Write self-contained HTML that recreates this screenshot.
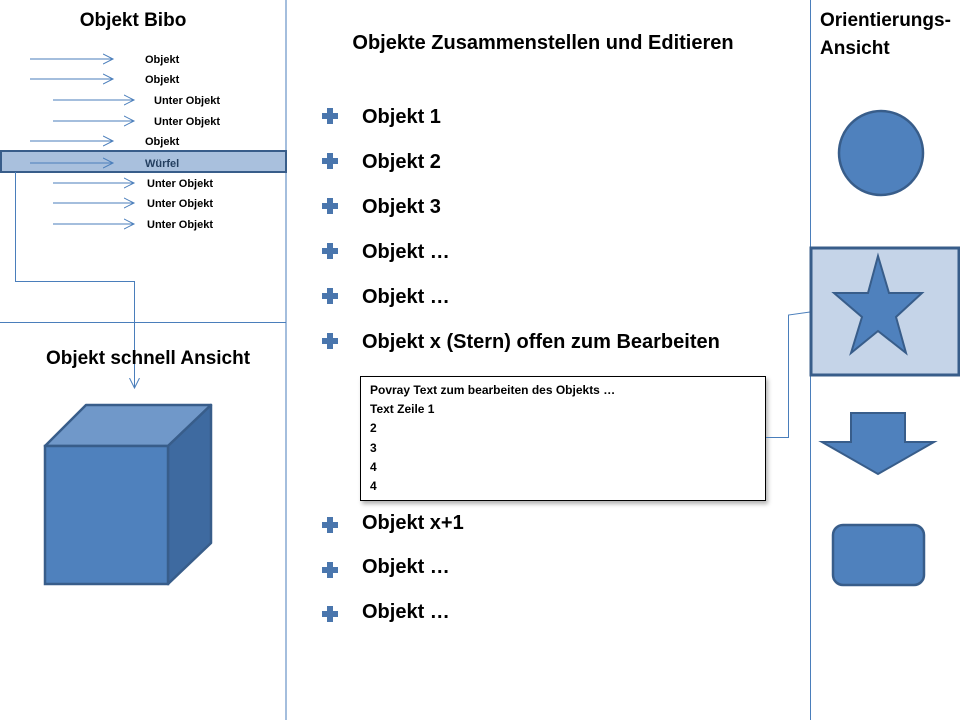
<!DOCTYPE html>
<html><head><meta charset="utf-8"><style>
html,body{margin:0;padding:0;background:#fff;}
svg{display:block;}
text{font-family:"Liberation Sans",sans-serif;font-weight:bold;fill:#000;}
</style></head><body>
<svg width="960" height="720" viewBox="0 0 960 720" xmlns="http://www.w3.org/2000/svg">
<defs>
<marker id="ah" markerWidth="12" markerHeight="12" refX="10" refY="6" orient="auto" markerUnits="userSpaceOnUse">
<path d="M0,1 L10,6 L0,11" fill="none" stroke="#4a7ebb" stroke-width="1"/>
</marker>
<filter id="sh" x="-5%" y="-5%" width="110%" height="115%"><feDropShadow dx="2" dy="3" stdDeviation="2" flood-color="#000" flood-opacity="0.3"/></filter>
<path id="b" d="M-3,-8 h6 v5 h5 v6 h-5 v5 h-6 v-5 h-5 v-6 h5z"/>
</defs>
<line x1="286" y1="0" x2="286" y2="720" stroke="#4a7ebb" stroke-width="1"/>
<line x1="810.5" y1="0" x2="810.5" y2="720" stroke="#4a7ebb" stroke-width="1"/>
<line x1="0" y1="322.5" x2="286" y2="322.5" stroke="#4a7ebb" stroke-width="1"/>

<text x="133" y="26" font-size="19" text-anchor="middle">Objekt Bibo</text>
<rect x="1" y="151" width="285" height="21" fill="#a9c0dd" stroke="#385d8a" stroke-width="2"/>
<g stroke="#4a7ebb" stroke-width="1" marker-end="url(#ah)">
<line x1="30" y1="59" x2="113" y2="59"/>
<line x1="30" y1="79" x2="113" y2="79"/>
<line x1="53" y1="100" x2="134" y2="100"/>
<line x1="53" y1="121" x2="134" y2="121"/>
<line x1="30" y1="141" x2="113" y2="141"/>
<line x1="30" y1="163" x2="113" y2="163"/>
<line x1="53" y1="183" x2="134" y2="183"/>
<line x1="53" y1="203" x2="134" y2="203"/>
<line x1="53" y1="224" x2="134" y2="224"/>
</g>
<g font-size="11">
<text x="145" y="63">Objekt</text>
<text x="145" y="83">Objekt</text>
<text x="154" y="104">Unter Objekt</text>
<text x="154" y="125">Unter Objekt</text>
<text x="145" y="145">Objekt</text>
<text x="145" y="167" style="fill:#243f60">Würfel</text>
<text x="147" y="187">Unter Objekt</text>
<text x="147" y="207">Unter Objekt</text>
<text x="147" y="228">Unter Objekt</text>
</g>
<polyline points="15.5,172 15.5,281.5 134.5,281.5 134.5,388" fill="none" stroke="#4a7ebb" stroke-width="1" marker-end="url(#ah)"/>

<text x="148" y="364" font-size="19" text-anchor="middle">Objekt schnell Ansicht</text>
<polygon points="45,446 86,405 211,405 168,446" fill="#7098c9" stroke="#385d8a" stroke-width="2.5" stroke-linejoin="round"/>
<polygon points="168,446 211,405 211,543 168,584" fill="#3e6aa0" stroke="#385d8a" stroke-width="2.5" stroke-linejoin="round"/>
<rect x="45" y="446" width="123" height="138" fill="#4f81bd" stroke="#385d8a" stroke-width="2.5"/>

<text x="543" y="49" font-size="20" text-anchor="middle">Objekte Zusammenstellen und Editieren</text>
<g fill="#4a76ad">
<use href="#b" x="330" y="116"/>
<use href="#b" x="330" y="161"/>
<use href="#b" x="330" y="206"/>
<use href="#b" x="330" y="251"/>
<use href="#b" x="330" y="296"/>
<use href="#b" x="330" y="341"/>
<use href="#b" x="330" y="525"/>
<use href="#b" x="330" y="570"/>
<use href="#b" x="330" y="614"/>
</g>
<g font-size="20">
<text x="362" y="123">Objekt 1</text>
<text x="362" y="168">Objekt 2</text>
<text x="362" y="213">Objekt 3</text>
<text x="362" y="258">Objekt …</text>
<text x="362" y="303">Objekt …</text>
<text x="362" y="348">Objekt x (Stern) offen zum Bearbeiten</text>
<text x="362" y="529">Objekt x+1</text>
<text x="362" y="573">Objekt …</text>
<text x="362" y="618">Objekt …</text>
</g>
<rect x="360.5" y="376.5" width="405" height="124" fill="#fff" stroke="#000" stroke-width="1" filter="url(#sh)"/>
<g font-size="12">
<text x="370" y="394">Povray Text zum bearbeiten des Objekts …</text>
<text x="370" y="413">Text Zeile 1</text>
<text x="370" y="432">2</text>
<text x="370" y="452">3</text>
<text x="370" y="471">4</text>
<text x="370" y="490">4</text>
</g>
<polyline points="766,437.5 788.5,437.5 788.5,315 810,312" fill="none" stroke="#4a7ebb" stroke-width="1"/>

<text x="820" y="26" font-size="19">Orientierungs-</text>
<text x="820" y="54" font-size="19">Ansicht</text>
<circle cx="881" cy="153" r="42" fill="#4f81bd" stroke="#385d8a" stroke-width="2.5"/>
<rect x="811" y="248" width="148" height="127" fill="#c5d4e8" stroke="#385d8a" stroke-width="3"/>
<polygon points="878,256 889,293 922,293 896,317 906,353 878,331 851,353 862,317 834,293 868,293" fill="#4f81bd" stroke="#385d8a" stroke-width="2"/>
<polygon points="851,413 905,413 905,442 934,442 878,474 822,442 851,442" fill="#4f81bd" stroke="#385d8a" stroke-width="2"/>
<rect x="833" y="525" width="91" height="60" rx="10" fill="#4f81bd" stroke="#385d8a" stroke-width="2.5"/>
</svg>
</body></html>
